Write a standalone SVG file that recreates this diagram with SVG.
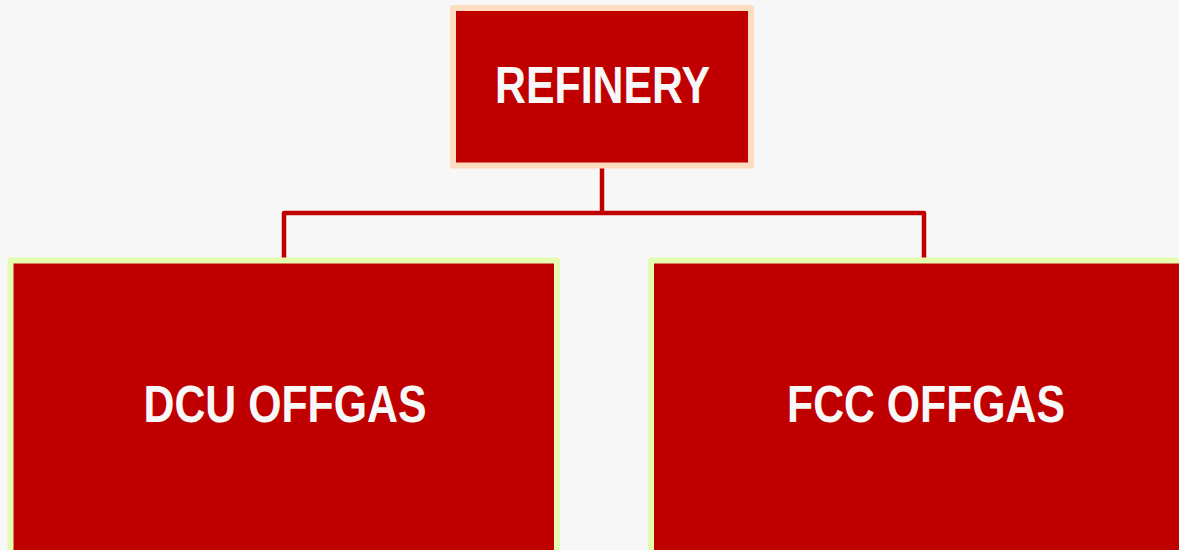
<svg xmlns="http://www.w3.org/2000/svg" width="1179" height="550" viewBox="0 0 1179 550">
  <style>
    .box { fill: #C00000; stroke-width: 6; stroke-linejoin: round; }
    .top { stroke: #FDDCC0; }
    .child { stroke: #E3FCAF; }
    .lbl { font-family: "Liberation Sans", Arial, sans-serif; font-weight: bold; font-size: 52px; fill: #F8F8F8; text-anchor: middle; }
    .conn { fill: none; stroke: #C00000; stroke-width: 4.5; stroke-linejoin: round; }
  </style>
  <rect width="1179" height="550" fill="#F7F7F7"/>
  <g id="connectors">
    <path class="conn" d="M602 168 V213"/>
    <path class="conn" d="M284 258 V213 H924 V258"/>
  </g>
  <g id="refinery">
    <rect class="box top" x="453" y="8" width="298" height="157.5"/>
    <text class="lbl" x="602.5" y="103" textLength="215" lengthAdjust="spacingAndGlyphs">REFINERY</text>
  </g>
  <g id="dcu">
    <rect class="box child" x="10.5" y="260.5" width="546.5" height="295"/>
    <text class="lbl" x="285" y="421.5" textLength="283" lengthAdjust="spacingAndGlyphs">DCU OFFGAS</text>
  </g>
  <g id="fcc">
    <rect class="box child" x="651" y="260.5" width="560" height="295"/>
    <text class="lbl" x="926" y="421.5" textLength="278" lengthAdjust="spacingAndGlyphs">FCC OFFGAS</text>
  </g>
</svg>
